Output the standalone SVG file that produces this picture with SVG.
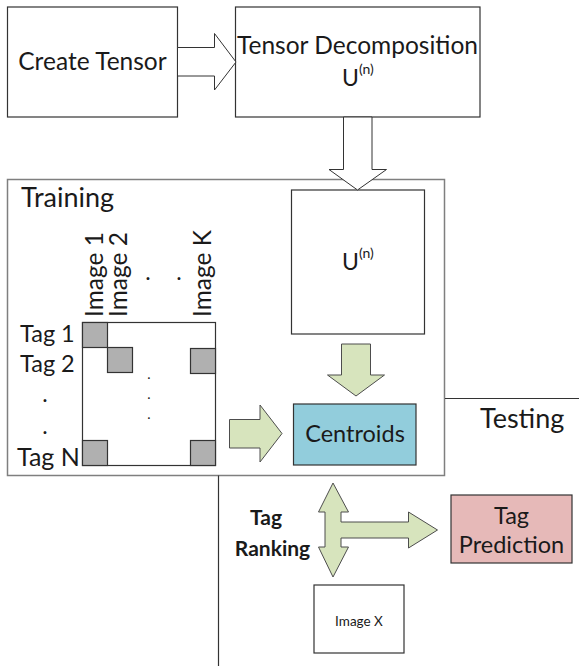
<svg xmlns="http://www.w3.org/2000/svg" width="579" height="666" viewBox="0 0 579 666">
<style>
text{font-family:Lato,"Open Sans","Liberation Sans",sans-serif;fill:#1a1a1a}
.box{fill:#fff;stroke:#333;stroke-width:1.2}
.region{fill:none;stroke:#7f7f7f;stroke-width:1.5}
.line{stroke:#333;stroke-width:1.2;fill:none}
.warrow{fill:#fff;stroke:#333;stroke-width:1}
.garrow{fill:#D7E4BD;stroke:#4d4d4d;stroke-width:1}
.cell{fill:#B0B0B0;stroke:#333;stroke-width:1.2}
.t24{font-size:24.5px}
.t27{font-size:27px}
.t23{font-size:23px}
.sup{font-size:14px}
</style>
<rect width="579" height="666" fill="#fff"/>
<g id="training">
  <rect class="region" x="7.5" y="179.5" width="437" height="296"/>
  <text class="t27" x="21" y="207">Training</text>
</g>
<g id="testing">
  <line class="line" x1="445" y1="398.5" x2="579" y2="398.5"/>
  <line class="line" x1="218.5" y1="475.5" x2="218.5" y2="666"/>
  <text class="t27" x="480" y="428">Testing</text>
</g>
<g id="create-tensor">
  <rect class="box" x="7.5" y="7" width="170" height="110"/>
  <text class="t24" x="92.5" y="70" text-anchor="middle">Create Tensor</text>
</g>
<g id="tensor-decomposition">
  <rect class="box" x="235.5" y="7" width="244.5" height="110"/>
  <text class="t24" x="357.5" y="54" text-anchor="middle">Tensor Decomposition</text>
  <text class="t23" x="342" y="86">U<tspan class="sup" dy="-12">(n)</tspan></text>
</g>
<g id="u-matrix">
  <rect class="box" x="291.5" y="190" width="133" height="144"/>
  <text class="t23" x="342" y="270">U<tspan class="sup" dy="-12">(n)</tspan></text>
</g>
<g id="tag-image-matrix">
  <rect class="box" x="82.5" y="322.5" width="133" height="143"/>
  <rect class="cell" x="82.5" y="322.5" width="25" height="25"/>
  <rect class="cell" x="107.5" y="347.5" width="25" height="25"/>
  <rect class="cell" x="190.5" y="348.5" width="25" height="25"/>
  <rect class="cell" x="82.5" y="440.5" width="25" height="25"/>
  <rect class="cell" x="190.5" y="440.5" width="25" height="25"/>
  <g font-size="14">
    <text x="149" y="379" text-anchor="middle">.</text>
    <text x="149" y="399" text-anchor="middle">.</text>
    <text x="149" y="419" text-anchor="middle">.</text>
  </g>
  <text font-size="24.5" transform="translate(103,317) rotate(-90)">Image 1</text>
  <text font-size="24.5" transform="translate(127,317) rotate(-90)">Image 2</text>
  <text font-size="24.5" transform="translate(211,317) rotate(-90)">Image K</text>
  <text class="t23" x="148" y="280" text-anchor="middle">.</text>
  <text class="t23" x="179" y="280" text-anchor="middle">.</text>
  <text font-size="23.5" x="20" y="342">Tag 1</text>
  <text font-size="23.5" x="20" y="372">Tag 2</text>
  <text class="t23" x="45" y="402" text-anchor="middle">.</text>
  <text class="t23" x="45" y="434" text-anchor="middle">.</text>
  <text font-size="25" x="17" y="466">Tag N</text>
</g>
<g id="centroids">
  <rect x="293.5" y="404" width="122.5" height="61" fill="#92CDDC" stroke="#333" stroke-width="1.2"/>
  <text font-size="23.5" x="355" y="442" text-anchor="middle">Centroids</text>
</g>
<g id="tag-prediction">
  <rect x="451" y="495" width="121" height="68" fill="#E6B9B8" stroke="#333" stroke-width="1.2"/>
  <text font-size="23.5" x="511.5" y="524" text-anchor="middle">Tag</text>
  <text font-size="23.5" x="511.5" y="553" text-anchor="middle">Prediction</text>
</g>
<g id="image-x">
  <rect class="box" x="314" y="585" width="90" height="68"/>
  <text x="359" y="626" font-size="13.5" text-anchor="middle">Image X</text>
</g>
<g id="tag-ranking">
  <text x="266" y="525" font-size="21" text-anchor="middle" font-weight="bold">Tag</text>
  <text x="272.5" y="556" font-size="21" text-anchor="middle" font-weight="bold">Ranking</text>
</g>
<g id="connectors">
  <polygon class="warrow" points="177.5,47.5 214.5,47.5 214.5,33.5 236,62 214.5,90 214.5,76 177.5,76"/>
  <polygon class="warrow" points="343.5,117 343.5,169.5 329,169.5 357.5,190 386.5,169.5 372,169.5 372,117"/>
  <polygon class="garrow" points="341.5,344 370.5,344 370.5,375 384.5,375 356,396 327.5,375 341.5,375"/>
  <polygon class="garrow" points="229.5,419.5 260,419.5 260,405 282,433.5 260,462 260,448 229.5,448"/>
  <polygon class="garrow" points="333,483 348.5,512 341,512 341,522 408.5,522 408.5,512 437.5,530 408.5,548 408.5,538 341,538 341,547 348.5,547 333,577 318.5,547 325,547 325,512 318.5,512"/>
</g>
</svg>
